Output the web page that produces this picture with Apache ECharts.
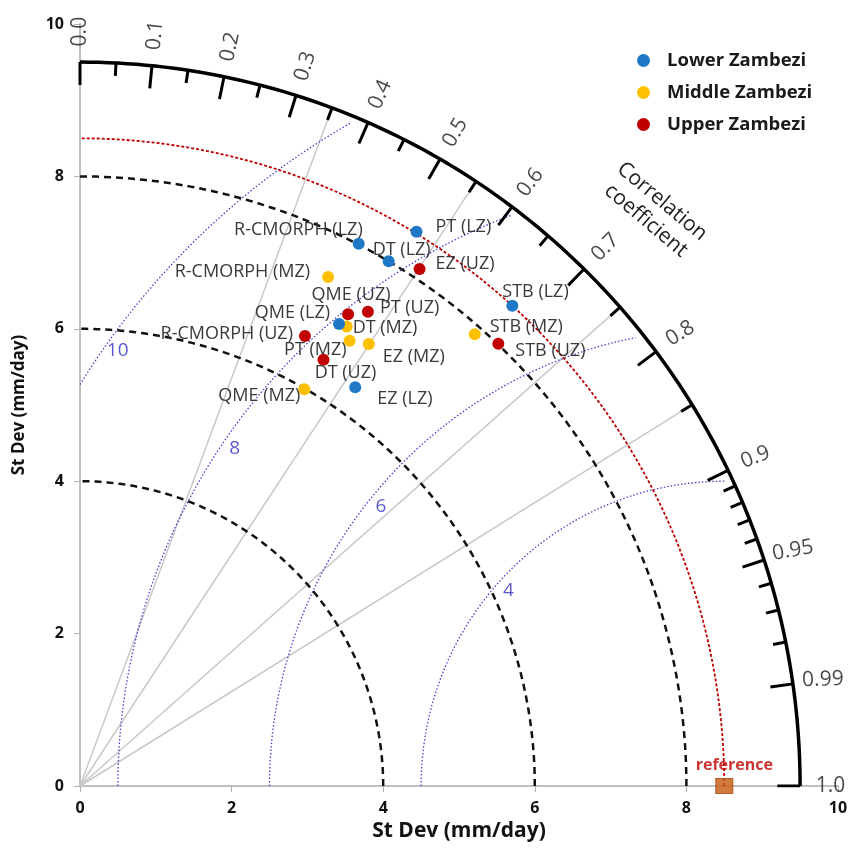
<!DOCTYPE html>
<html>
<head>
<meta charset="utf-8">
<script src="https://cdn.jsdelivr.net/npm/echarts@6/dist/echarts.min.js"></script>
<style>
html, body { margin: 0; padding: 0; background: #fff; }
#chart { width: 851px; height: 850px; }
</style>
</head>
<body>
<div id="chart"></div>
<script>
// regions and their colours
var regions = ['Lower Zambezi', 'Middle Zambezi', 'Upper Zambezi'];
var regionColors = ['#1f78c6', '#ffc000', '#c00000'];

// Lower Zambezi: std dev (mm/day) and correlation
var lzNames = ['PT (LZ)', 'R-CMORPH (LZ)', 'DT (LZ)', 'STB (LZ)', 'QME (LZ)', 'EZ (LZ)'];
var lzStd = [8.52, 8.01, 8.00, 8.50, 6.96, 6.37];
var lzCorr = [0.521, 0.459, 0.509, 0.671, 0.491, 0.570];

// Middle Zambezi
var mzNames = ['R-CMORPH (MZ)', 'DT (MZ)', 'PT (MZ)', 'EZ (MZ)', 'STB (MZ)', 'QME (MZ)'];
var mzStd = [7.44, 6.98, 6.84, 6.94, 7.89, 5.99];
var mzCorr = [0.440, 0.504, 0.520, 0.549, 0.660, 0.494];

// Upper Zambezi
var uzNames = ['EZ (UZ)', 'QME (UZ)', 'PT (UZ)', 'R-CMORPH (UZ)', 'DT (UZ)', 'STB (UZ)'];
var uzStd = [8.13, 7.13, 7.29, 6.61, 6.45, 8.01];
var uzCorr = [0.551, 0.496, 0.521, 0.449, 0.498, 0.689];

// reference and diagram frame
var refStd = 8.5;
var outerStd = 9.5;
var stdArcs = [4, 6, 8];
var rmsArcs = [4, 6, 8, 10];
var rmsLabels = ['4', '6', '8', '10'];
var corrMajor = [0.0, 0.1, 0.2, 0.3, 0.4, 0.5, 0.6, 0.7, 0.8, 0.9, 0.95, 0.99, 1.0];
var corrMajorLabels = ['0.0', '0.1', '0.2', '0.3', '0.4', '0.5', '0.6', '0.7', '0.8', '0.9', '0.95', '0.99', '1.0'];
var corrMinor = [0.05, 0.15, 0.25, 0.35, 0.45, 0.55, 0.65, 0.75, 0.85, 0.91, 0.92, 0.93, 0.94, 0.96, 0.97, 0.98];
var corrGrid = [0.35, 0.55, 0.75, 0.85];

// label placement (pixels from the point, text alignment)
var lzLabelPos = [[19, -5, 'left'], [4, -14, 'right'], [13, -11, 'center'], [-10, -14, 'left'], [-9, -11, 'right'], [22, 12, 'left']];
var mzLabelPos = [[-18, -5, 'right'], [6, 1, 'left'], [-3, 9, 'right'], [14, 13, 'left'], [15, -7, 'left'], [-4, 7, 'right']];
var uzLabelPos = [[16, -5, 'left'], [3, -19, 'center'], [12, -4, 'left'], [-12, -2, 'right'], [22, 13, 'center'], [17, 7, 'left']];
var corrLabelRot = [90, 84, 78, 72.5, 66, 60, 53, 45.6, 32, 22, 10, 2, 0];
var rmsLabelAngle = [138, 141, 145.6, 144.5];

var FONT = 'Open Sans';

function toXY(s, r) {
	return [s * r, s * Math.sqrt(Math.max(0, 1 - r * r))];
}

function arc(cx, cy, R, a0, a1) {
	var pts = [];
	var n = 120;
	for (var i = 0; i <= n; i++) {
		var a = (a0 + (a1 - a0) * i / n) * Math.PI / 180;
		pts.push([cx + R * Math.cos(a), cy + R * Math.sin(a)]);
	}
	return pts;
}

function lineSeries(data, color, width, type, z) {
	return {
		type: 'line',
		data: data,
		showSymbol: false,
		symbol: 'none',
		silent: true,
		z: z || 2,
		lineStyle: { color: color, width: width, type: type || 'solid' },
		animation: false
	};
}

var series = [];

// grey radial correlation lines
for (var i = 0; i < corrGrid.length; i++) {
	series.push(lineSeries([[0, 0], toXY(outerStd, corrGrid[i])], '#c8c8c8', 1.5, 'solid', 1));
}

// std dev arcs (black dashed)
for (var i = 0; i < stdArcs.length; i++) {
	series.push(lineSeries(arc(0, 0, stdArcs[i], 0, 90), '#111', 2.5, [7, 5], 3));
}

// reference std arc (red)
series.push(lineSeries(arc(0, 0, refStd, 0, 90), '#c00000', 1.8, [3, 2], 3));

// RMS difference arcs (blue dotted), around the reference point
var rmsEnd = 9.4;
for (var i = 0; i < rmsArcs.length; i++) {
	var R = rmsArcs[i];
	var aStart = R > refStd ? Math.acos(-refStd / R) * 180 / Math.PI : 180;
	var aEnd = Math.acos((rmsEnd * rmsEnd - refStd * refStd - R * R) / (2 * refStd * R)) * 180 / Math.PI;
	series.push(lineSeries(arc(refStd, 0, R, aStart, aEnd), '#4444cc', 1.3, [1.5, 2], 2));
}

// RMS labels
var rmsLabelData = [];
for (var i = 0; i < rmsArcs.length; i++) {
	var a = rmsLabelAngle[i] * Math.PI / 180;
	var rr = rmsArcs[i] - 0.17;
	rmsLabelData.push({ value: [refStd + rr * Math.cos(a), rr * Math.sin(a)], name: rmsLabels[i] });
}
series.push({
	type: 'scatter',
	data: rmsLabelData,
	symbolSize: 0,
	silent: true,
	z: 4,
	label: {
		show: true, position: 'inside', formatter: '{b}',
		color: '#3030c0', fontSize: 19, fontFamily: FONT
	},
	animation: false
});

// outer arc
series.push(lineSeries(arc(0, 0, outerStd, 0, 90), '#000', 3.5, 'solid', 5));

// correlation ticks
for (var i = 0; i < corrMajor.length; i++) {
	series.push(lineSeries([toXY(outerStd, corrMajor[i]), toXY(outerStd - 0.3, corrMajor[i])], '#000', 3, 'solid', 5));
}
for (var i = 0; i < corrMinor.length; i++) {
	series.push(lineSeries([toXY(outerStd, corrMinor[i]), toXY(outerStd - 0.17, corrMinor[i])], '#000', 3, 'solid', 5));
}

// correlation tick labels
var corrLabelData = [];
for (var i = 0; i < corrMajor.length; i++) {
	corrLabelData.push({
		value: toXY(9.9, corrMajor[i]),
		name: corrMajorLabels[i],
		label: { rotate: corrLabelRot[i] }
	});
}
series.push({
	type: 'scatter',
	data: corrLabelData,
	symbolSize: 0,
	silent: true,
	z: 6,
	label: {
		show: true, position: 'inside', formatter: '{b}',
		color: '#1a1a1a', fontSize: 21, fontFamily: FONT,
		align: 'center', verticalAlign: 'middle'
	},
	animation: false
});

// reference point
series.push({
	type: 'scatter',
	data: [{ value: [refStd, 0], name: 'reference' }],
	symbol: 'rect',
	symbolSize: [17, 15],
	silent: true,
	z: 8,
	itemStyle: { color: '#c55a11', borderColor: '#a9470b', borderWidth: 1 },
	label: {
		show: true, position: 'inside', formatter: '{b}', offset: [10, -21],
		color: '#c00000', fontSize: 16, fontWeight: 'bold', fontFamily: FONT
	},
	animation: false
});

// observation points
function pointSeries(idx, names, std, corr, pos, z) {
	var data = [];
	for (var i = 0; i < names.length; i++) {
		data.push({
			value: toXY(std[i], corr[i]),
			name: names[i],
			label: { offset: [pos[i][0], pos[i][1]], align: pos[i][2] }
		});
	}
	return {
		name: regions[idx],
		type: 'scatter',
		data: data,
		symbolSize: 12,
		z: z,
		itemStyle: { color: regionColors[idx], opacity: 1 },
		label: {
			show: true, position: 'inside', formatter: '{b}',
			verticalAlign: 'middle',
			color: '#3a3a3a', fontSize: 18, fontFamily: FONT
		},
		animation: false
	};
}
series.push(pointSeries(1, mzNames, mzStd, mzCorr, mzLabelPos, 10));
series.push(pointSeries(0, lzNames, lzStd, lzCorr, lzLabelPos, 11));
series.push(pointSeries(2, uzNames, uzStd, uzCorr, uzLabelPos, 12));

var chart = echarts.init(document.getElementById('chart'));
var option = {
	animation: false,
	backgroundColor: '#fff',
	grid: { left: 80, right: 13, top: 24, bottom: 64 },
	legend: {
		data: regions,
		orient: 'vertical',
		left: 632,
		top: 46,
		icon: 'circle',
		itemWidth: 13,
		itemHeight: 13,
		itemGap: 13,
		textStyle: { color: '#1a1a1a', fontSize: 18.5, fontWeight: 'bold', fontFamily: FONT, padding: [0, 0, 0, 12] }
	},
	xAxis: {
		type: 'value', min: 0, max: 10, interval: 2,
		name: 'St Dev (mm/day)', nameLocation: 'middle', nameGap: 35,
		nameTextStyle: { color: '#111', fontSize: 21, fontWeight: 'bold', fontFamily: FONT },
		splitLine: { show: false },
		axisLine: { lineStyle: { color: '#c0c0c0', width: 2 } },
		axisTick: { show: true, length: 6, lineStyle: { color: '#b0b0b0' } },
		axisLabel: { color: '#111', fontSize: 16, fontWeight: 'bold', fontFamily: FONT, margin: 14 }
	},
	yAxis: {
		type: 'value', min: 0, max: 10, interval: 2,
		name: 'St Dev (mm/day)', nameLocation: 'middle', nameGap: 52,
		nameTextStyle: { color: '#111', fontSize: 17, fontWeight: 'bold', fontFamily: FONT },
		splitLine: { show: false },
		axisLine: { lineStyle: { color: '#c0c0c0', width: 2 } },
		axisTick: { show: true, length: 6, lineStyle: { color: '#b0b0b0' } },
		axisLabel: { color: '#111', fontSize: 16, fontWeight: 'bold', fontFamily: FONT, margin: 16 }
	},
	graphic: [{
		type: 'text',
		x: 654,
		y: 211,
		rotation: -40 * Math.PI / 180,
		z: 20,
		style: {
			text: 'Correlation\ncoefficient',
			fill: '#222',
			font: '21px "Open Sans"',
			align: 'center',
			verticalAlign: 'middle',
			lineHeight: 25
		}
	}],
	series: series
};
chart.setOption(option);
</script>
</body>
</html>
